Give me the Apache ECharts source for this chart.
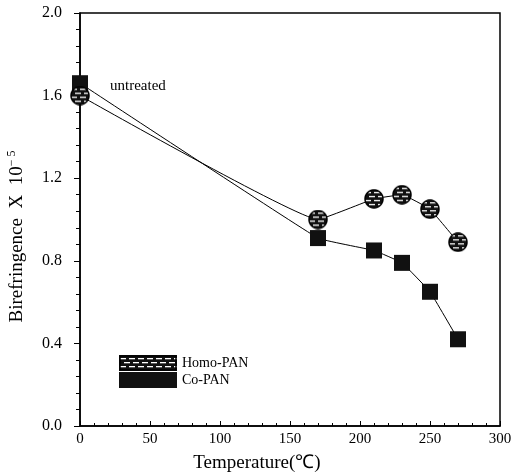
<!DOCTYPE html>
<html><head><meta charset="utf-8">
<script src="https://cdn.jsdelivr.net/npm/echarts@6/dist/echarts.min.js"></script>
<style>html,body{margin:0;padding:0;background:#fff}#c{width:516px;height:473px}</style>
</head><body><div id="c"></div>
<script>
const temperatures = [0, 170, 210, 230, 250, 270];
const homoPAN = [1.60, 1.00, 1.10, 1.12, 1.05, 0.89];
const coPAN = [1.66, 0.91, 0.85, 0.79, 0.65, 0.42];
const seriesNames = ['Homo-PAN', 'Co-PAN'];
const xTicks = [0, 50, 100, 150, 200, 250, 300];
const yTicks = [0.0, 0.4, 0.8, 1.2, 1.6, 2.0];

// hatched fill (black with white horizontal dashes), drawn into a canvas
function hatchFill(g, w, h, s) {
  g.fillStyle = '#111';
  g.fillRect(0, 0, w, h);
  g.fillStyle = '#fff';
  let row = 0;
  for (let y = 3 * s; y < h - s; y += 4 * s, row++) {
    const off = (row % 2) * 4 * s;
    for (let x = off + s; x < w; x += 9 * s) {
      g.fillRect(x, y, 6 * s, 1.3 * s);
    }
  }
}
function hatchedCircle() {
  const s = 2, d = 20 * s;
  const c = document.createElement('canvas');
  c.width = d; c.height = d;
  const g = c.getContext('2d');
  g.save();
  g.beginPath(); g.arc(d / 2, d / 2, d / 2 - s, 0, Math.PI * 2); g.clip();
  hatchFill(g, d, d, s);
  g.restore();
  g.beginPath(); g.arc(d / 2, d / 2, d / 2 - s, 0, Math.PI * 2);
  g.lineWidth = 1.5 * s; g.strokeStyle = '#000'; g.stroke();
  return c.toDataURL();
}
function hatchedRect() {
  const s = 2, w = 58 * s, h = 16 * s;
  const c = document.createElement('canvas');
  c.width = w; c.height = h;
  const g = c.getContext('2d');
  hatchFill(g, w, h, s);
  g.lineWidth = 1.5 * s; g.strokeStyle = '#000';
  g.strokeRect(s, s, w - 2 * s, h - 2 * s);
  return c.toDataURL();
}
const circleImg = 'image://' + hatchedCircle();
const rectImg = 'image://' + hatchedRect();
const font = 'Liberation Serif';

const chart = echarts.init(document.getElementById('c'));
chart.setOption({
  animation: false,
  backgroundColor: '#fff',
  grid: { left: 80, right: 16, top: 13, bottom: 47, containLabel: false, outerBoundsMode: 'none',
    show: true, borderColor: '#000', borderWidth: 1.5, backgroundColor: 'transparent' },
  legend: {
    orient: 'vertical', left: 114, top: 350, itemGap: 1, itemWidth: 58, itemHeight: 16,
    textStyle: { fontFamily: font, fontSize: 14, color: '#000' },
    data: [
      { name: seriesNames[0], icon: rectImg },
      { name: seriesNames[1], icon: 'rect', itemStyle: { color: '#111' } }
    ]
  },
  xAxis: {
    type: 'value', min: xTicks[0], max: xTicks[xTicks.length - 1], interval: 50,
    name: 'Temperature(℃)', nameLocation: 'middle', nameGap: 28,
    nameTextStyle: { fontFamily: font, fontSize: 19, color: '#000', padding: [0, 66, 0, 0] },
    axisLine: { lineStyle: { color: '#000', width: 1.5 } },
    axisTick: { inside: true, length: 5, lineStyle: { color: '#000' } },
    minorTick: { show: true, splitNumber: 5, length: 3, lineStyle: { color: '#000' } },
    axisLabel: { fontFamily: font, fontSize: 15, color: '#000', margin: 6 },
    splitLine: { show: false }
  },
  yAxis: {
    type: 'value', min: yTicks[0], max: yTicks[yTicks.length - 1], interval: 0.4,
    name: 'Birefringence  X  10{s|− 5}', nameLocation: 'middle', nameGap: 52, nameRotate: 90,
    nameTextStyle: { fontFamily: font, fontSize: 19, color: '#000', padding: [0, 34, 0, 0],
      rich: { s: { fontFamily: font, fontSize: 12, verticalAlign: 'top', color: '#000', padding: [0, 0, 10, 0] } } },
    axisLine: { lineStyle: { color: '#000', width: 1.5 } },
    axisTick: { inside: false, length: 6, lineStyle: { color: '#000' } },
    minorTick: { show: true, splitNumber: 5, length: 4, lineStyle: { color: '#000' } },
    axisLabel: { fontFamily: font, fontSize: 16, color: '#000', margin: 18, formatter: v => v.toFixed(1) },
    splitLine: { show: false }
  },
  series: [
    {
      name: seriesNames[0], type: 'line', smooth: 0.08, clip: false,
      data: temperatures.map((t, i) => [t, homoPAN[i]]),
      symbol: circleImg, symbolSize: 20,
      lineStyle: { color: '#000', width: 1 },
      itemStyle: { color: '#111' }, z: 3
    },
    {
      name: seriesNames[1], type: 'line', smooth: 0.08, clip: false,
      data: temperatures.map((t, i) => [t, coPAN[i]]),
      symbol: 'rect', symbolSize: 16,
      lineStyle: { color: '#000', width: 1 },
      itemStyle: { color: '#111' }, z: 2
    }
  ],
  graphic: [
    { type: 'text', left: 110, top: 79, style: { text: 'untreated', fontFamily: font, fontSize: 15, fill: '#000' } }
  ]
});
</script></body></html>
